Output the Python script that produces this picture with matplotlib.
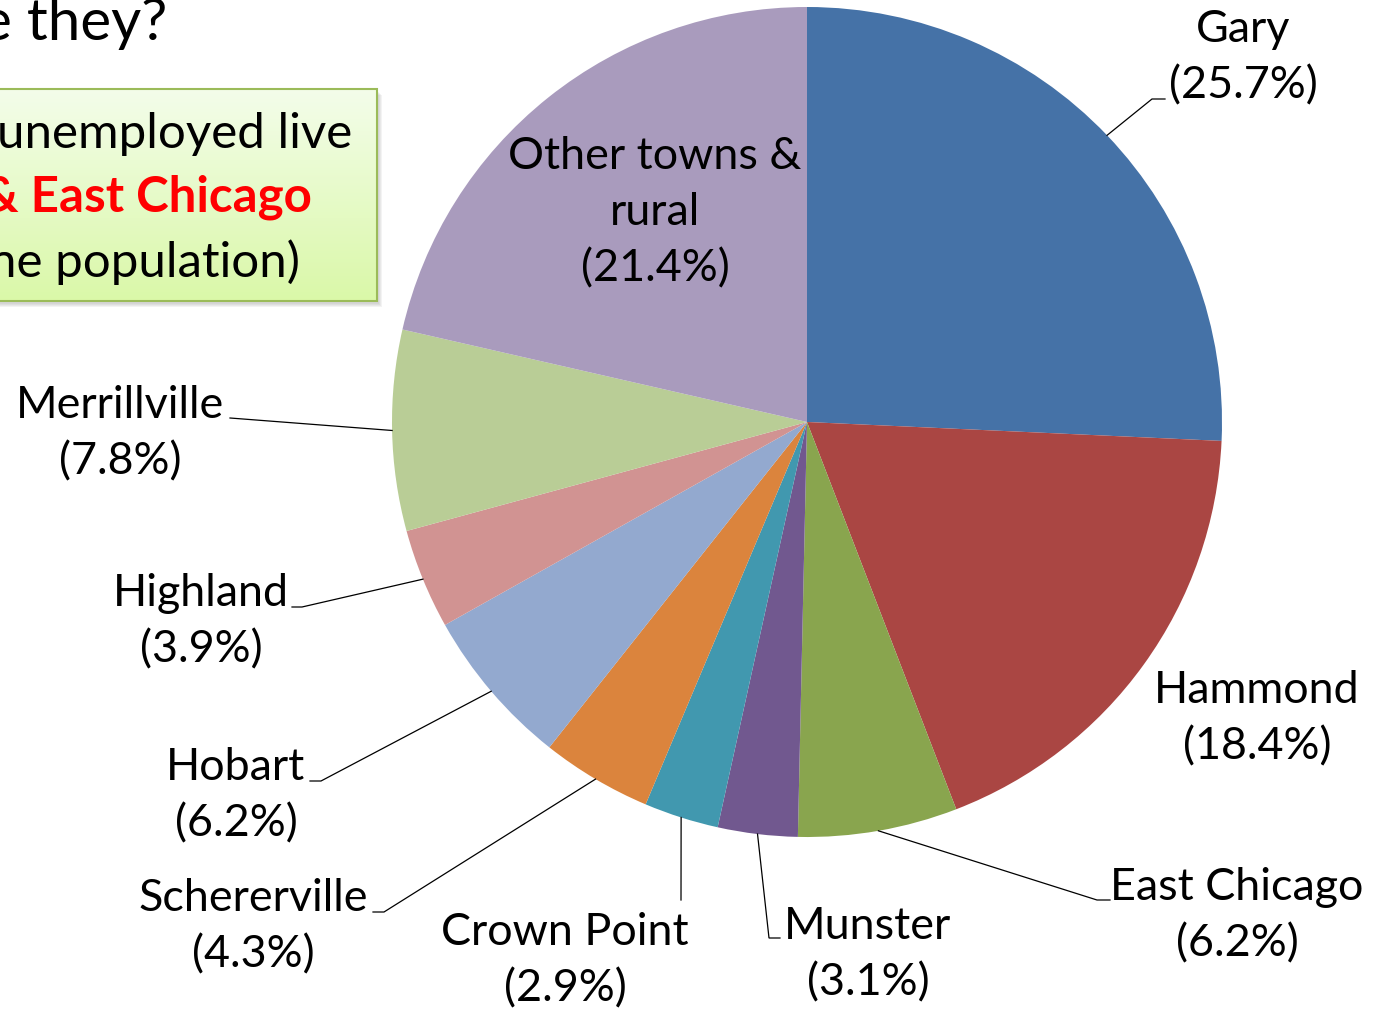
import matplotlib
matplotlib.use("Agg")
import matplotlib.pyplot as plt
import numpy as np
from matplotlib.patches import Rectangle

# share of the unemployed by town (percent), clockwise from 12 o'clock
towns = ["Gary", "Hammond", "East Chicago", "Munster", "Crown Point",
         "Schererville", "Hobart", "Highland", "Merrillville", "Other towns &\nrural"]
shares = [25.7, 18.4, 6.2, 3.1, 2.9, 4.3, 6.2, 3.9, 7.8, 21.4]
colors = ["#4572A7", "#AA4643", "#89A54E", "#71588F", "#4198AF",
          "#DB843D", "#93A9CF", "#D19392", "#B9CD96", "#A99BBD"]

box_lines = ["unemployed live", "& East Chicago", "ne population)"]
box_colors = ["black", "#FF0000", "black"]
title = "Where are they?"

plt.rcParams['font.family'] = ['Lato', 'DejaVu Sans']

W, H = 1374, 1014
CX, CY, R = 807, 422, 415

# label block centre and leader elbows, in pixels
layout = {
    "Gary": ((1243, 58), [(1152, 99), (1165, 99)]),
    "Hammond": ((1257, 719), []),
    "East Chicago": ((1237, 916), [(1097, 900), (1110, 900)]),
    "Munster": ((868, 955), [(769, 938), (780, 938)]),
    "Crown Point": ((565, 961), [(681, 900)]),
    "Schererville": ((253, 927), [(384, 912), (373, 912)]),
    "Hobart": ((236, 796), [(321, 781), (310, 781)]),
    "Highland": ((201, 622), [(302, 607), (292, 607)]),
    "Merrillville": ((120, 434), [(230, 418)]),
    "Other towns &\nrural": ((655, 213), []),
}

fig = plt.figure(figsize=(W / 100, H / 100), dpi=100)
ax = fig.add_axes([0, 0, 1, 1])

# y axis runs downward, so counterclock in data space is clockwise on screen
ax.pie(shares, colors=colors, startangle=-90, counterclock=True,
       radius=R, center=(CX, CY), wedgeprops=dict(linewidth=0))

total = sum(shares)
cum = 0.0
for town, share in zip(towns, shares):
    mid = cum + share / 2
    cum += share
    theta = np.deg2rad(90 - 360 * mid / total)
    ax_pt = (CX + R * np.cos(theta), CY - R * np.sin(theta))
    (tx, ty), elbows = layout[town]
    if elbows:
        pts = [ax_pt] + elbows
        ax.plot([p[0] for p in pts], [p[1] for p in pts], color="black", lw=0.9,
                solid_joinstyle="miter")
    ax.text(tx, ty, f"{town}\n({share}%)", ha="center", va="center",
            fontsize=32.3, linespacing=1.46, color="black")

# title, cut off by the left edge
ax.text(167, 40, title, ha="right", va="baseline", fontsize=42, color="black")

# green call-out box with shadow and gradient
bx0, bx1, by0, by1 = -10, 377, 89, 301
for k in range(4):
    ax.add_patch(Rectangle((bx0 + 2 + k, by0 + 3 + k), bx1 - bx0, by1 - by0,
                           facecolor="gray", edgecolor="none", alpha=0.09, zorder=2))
grad = np.linspace(0, 1, 256)[:, None]
top = np.array([0.955, 0.992, 0.918])
bot = np.array([0.855, 0.973, 0.66])
img = top + (bot - top) * grad[:, :, None]
ax.imshow(img, extent=[bx0, bx1, by1, by0], aspect="auto", zorder=3)
ax.add_patch(Rectangle((bx0, by0), bx1 - bx0, by1 - by0, facecolor="none",
                       edgecolor="#9BBB59", lw=1.5, zorder=4))
base_y = [148, 212, 277]
right_x = [352, 312, 300]
for line, c, y, x in zip(box_lines, box_colors, base_y, right_x):
    ax.text(x, y, line, ha="right", va="baseline", fontsize=35.5, color=c,
            fontweight="bold" if c != "black" else "normal", zorder=5)

ax.set_xlim(0, W)
ax.set_ylim(H, 0)
ax.set_aspect("equal")
ax.axis("off")

fig.savefig("out.png", dpi=100)
